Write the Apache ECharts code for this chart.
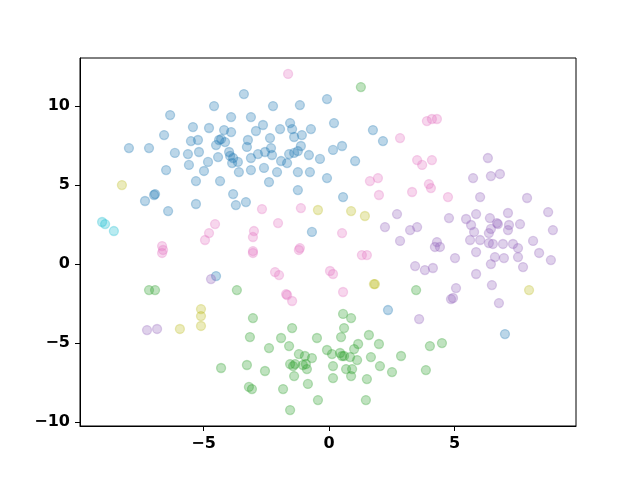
<!DOCTYPE html>
<html>
<head>
<meta charset="utf-8">
<script src="https://cdn.jsdelivr.net/npm/echarts@6/dist/echarts.min.js"></script>
<style>
  html, body { margin: 0; padding: 0; background: #fff; }
  #chart { width: 640px; height: 480px; }
</style>
</head>
<body>
<div id="chart"></div>
<script>
// point groups, [x, y]
const bluePts = [
  [-6.33, 9.43], [-5.42, 8.67], [-6.57, 8.16], [-5.50, 7.78], [-5.22, 7.85], [-7.97, 7.34],
  [-7.17, 7.34], [-6.14, 7.03], [-5.62, 6.96], [-5.18, 7.09], [-5.58, 6.27], [-6.49, 5.95],
  [-4.98, 5.89], [-5.30, 5.25], [-3.39, 10.76], [-4.58, 10.0], [-2.23, 10.0], [-1.16, 10.06],
  [-0.08, 10.44], [-3.90, 9.30], [-3.11, 9.30], [-4.78, 8.61], [-4.18, 8.48], [-3.90, 8.35],
  [-2.63, 8.80], [-2.91, 8.42], [-1.95, 8.54], [-1.55, 8.92], [-1.47, 8.54], [-0.72, 8.54],
  [-4.30, 7.91], [-4.38, 7.85], [-3.23, 7.85], [-2.35, 7.97], [-1.39, 8.04], [-1.08, 8.16],
  [-4.50, 7.53], [-4.14, 7.72], [-3.27, 7.41], [-2.31, 7.34], [-1.12, 7.47], [-3.98, 7.09],
  [-2.55, 7.09], [-2.83, 6.96], [-2.27, 6.90], [-4.42, 6.77], [-3.94, 6.84], [-3.82, 6.71],
  [-3.11, 6.71], [-1.59, 6.96], [-1.39, 7.03], [-1.24, 7.15], [-0.80, 6.90], [-0.36, 6.65],
  [-4.82, 6.46], [-3.86, 6.39], [-3.63, 6.46], [-1.91, 6.52], [-1.67, 6.39], [-3.11, 5.95],
  [-2.59, 6.08], [-2.07, 5.82], [-1.24, 5.82], [-0.76, 5.82], [-3.59, 5.82], [-4.34, 5.25],
  [-0.08, 5.44], [0.20, 8.92], [1.75, 8.48], [2.15, 7.78], [0.16, 7.22], [0.52, 7.47],
  [1.04, 6.52], [-2.39, 5.19], [-1.24, 4.68], [-3.82, 4.43], [-3.71, 3.73], [-3.31, 3.92],
  [-0.68, 2.03], [-4.50, -0.76], [-6.93, 4.43], [-6.97, 4.37], [-7.33, 3.99], [-6.41, 3.35],
  [-5.30, 3.80], [0.56, 4.24], [2.35, -2.91], [7.01, -4.43]
];
const pinkPts = [
  [-1.63, 12.03], [2.83, 7.97], [3.90, 9.05], [4.10, 9.18], [4.30, 9.18], [3.51, 6.58],
  [3.71, 6.27], [4.10, 6.58], [1.63, 5.25], [1.95, 5.44], [3.98, 5.06], [4.06, 4.81],
  [1.99, 4.37], [3.31, 4.56], [4.74, 4.24], [0.52, 1.96], [1.31, 0.57], [1.51, 0.57],
  [0.04, -0.44], [0.16, -0.63], [0.56, -1.77], [-6.65, 1.14], [-6.61, 0.89], [-6.65, 0.70],
  [-4.94, 1.52], [-2.67, 3.48], [-1.12, 3.54], [-4.54, 2.53], [-2.03, 2.59], [-4.78, 1.96],
  [-2.99, 2.09], [-3.03, 1.71], [-3.03, 0.82], [-3.03, 0.70], [-1.16, 1.01], [-1.20, 0.89],
  [-2.15, -0.51], [-1.99, -0.70], [-1.67, -1.96], [-1.71, -1.90], [-1.47, -2.34]
];
const purplePts = [
  [6.33, 6.71], [5.74, 5.44], [6.45, 5.57], [6.81, 5.70], [2.71, 3.16], [2.23, 2.34],
  [3.23, 2.15], [3.51, 2.34], [2.83, 1.46], [4.30, 1.39], [4.22, 1.08], [4.42, 1.08],
  [3.43, -0.13], [3.82, -0.38], [4.14, -0.25], [4.78, 2.91], [4.86, -2.22], [6.02, 4.24],
  [7.89, 4.18], [8.73, 3.29], [5.86, 3.16], [7.13, 3.23], [5.46, 2.85], [5.66, 2.47],
  [6.41, 2.91], [6.73, 2.53], [6.69, 2.59], [7.17, 2.47], [7.61, 2.53], [8.92, 2.15],
  [5.78, 2.03], [6.37, 1.96], [6.45, 2.22], [7.13, 2.15], [5.62, 1.52], [6.02, 1.52],
  [6.37, 1.33], [6.53, 1.27], [6.93, 1.27], [7.33, 1.27], [7.53, 1.01], [8.13, 1.46],
  [5.86, 0.76], [6.61, 0.44], [6.97, 0.38], [7.53, 0.44], [8.37, 0.70], [8.84, 0.25],
  [5.02, 0.38], [6.45, 0.0], [7.73, -0.19], [5.86, -0.63], [5.06, -1.52], [6.49, -1.33],
  [4.94, -2.15], [6.77, -2.47], [-4.70, -0.95], [-7.25, -4.18], [-6.85, -4.11], [3.59, -3.48]
];
const greenPts = [
  [1.27, 11.20], [-7.17, -1.65], [-6.93, -1.65], [-3.67, -1.65], [3.47, -1.65], [-3.03, -3.42],
  [-3.15, -4.62], [-1.47, -4.05], [-1.91, -4.68], [-2.39, -5.32], [-1.59, -5.19], [-0.48, -4.68],
  [-0.08, -5.44], [-1.20, -5.70], [-0.96, -5.82], [-0.68, -5.95], [-4.30, -6.58], [-3.27, -6.39],
  [-2.55, -6.77], [-1.55, -6.33], [-1.43, -6.46], [-1.35, -6.33], [-1.04, -6.39], [-0.92, -6.33],
  [-0.88, -6.65], [-1.39, -7.09], [-3.19, -7.78], [-3.07, -7.91], [-1.83, -7.91], [-0.84, -7.59],
  [-0.44, -8.61], [-1.55, -9.24], [0.56, -3.16], [0.88, -3.42], [0.60, -4.05], [0.48, -4.62],
  [1.59, -4.49], [1.99, -5.06], [1.16, -5.06], [1.00, -5.38], [0.12, -5.70], [0.44, -5.63],
  [0.52, -5.82], [0.60, -5.82], [0.84, -5.89], [1.12, -6.08], [1.67, -5.89], [2.87, -5.82],
  [4.02, -5.19], [4.50, -5.00], [0.16, -6.46], [0.68, -6.65], [0.92, -6.65], [0.88, -7.09],
  [2.03, -6.46], [2.51, -6.84], [3.86, -6.71], [0.16, -7.22], [1.51, -7.28], [1.47, -8.61]
];
const olivePts = [
  [-8.25, 5.00], [-0.44, 3.42], [0.88, 3.35], [1.43, 3.04], [1.83, -1.27], [1.79, -1.27],
  [7.97, -1.65], [-5.94, -4.11], [-5.10, -2.85], [-5.10, -3.29], [-5.10, -3.92]
];
const cyanPts = [[-9.04, 2.66], [-8.92, 2.53], [-8.57, 2.09]];

const xTicks = [-5, 0, 5];
const yTicks = [-10, -5, 0, 5, 10];

const groups = [
  { name: 'blue', data: bluePts, rgb: '31,119,180' },
  { name: 'green', data: greenPts, rgb: '44,160,44' },
  { name: 'purple', data: purplePts, rgb: '148,103,189' },
  { name: 'pink', data: pinkPts, rgb: '227,119,194' },
  { name: 'olive', data: olivePts, rgb: '188,189,34' },
  { name: 'cyan', data: cyanPts, rgb: '23,190,207' },
];

const fmt = v => (v < 0 ? '\u2212' + Math.abs(v) : String(v));

const axisCommon = {
  axisLine: { show: true, onZero: false, lineStyle: { color: '#000', width: 1 } },
  axisTick: { show: true, inside: false, length: 5, lineStyle: { color: '#000', width: 1 } },
  splitLine: { show: false },
  axisLabel: {
    margin: 10, color: '#000', fontSize: 16, fontWeight: 'bold',
    fontFamily: 'DejaVu Sans', formatter: fmt,
  },
};

const chart = echarts.init(document.getElementById('chart'), null, { renderer: 'canvas' });
chart.setOption({
  animation: false,
  backgroundColor: '#fff',
  grid: {
    left: 80, right: 64, top: 58, bottom: 54,
    show: true, borderColor: '#000', borderWidth: 1, backgroundColor: 'transparent',
  },
  xAxis: {
    type: 'value', min: -9.92, max: 9.84,
    ...axisCommon,
    axisTick: { ...axisCommon.axisTick, customValues: xTicks },
    axisLabel: { ...axisCommon.axisLabel, customValues: xTicks },
  },
  yAxis: {
    type: 'value', min: -10.25, max: 13.04,
    ...axisCommon,
    axisTick: { ...axisCommon.axisTick, customValues: yTicks },
    axisLabel: { ...axisCommon.axisLabel, customValues: yTicks },
  },
  series: groups.map(g => ({
    name: g.name,
    type: 'scatter',
    data: g.data,
    symbol: 'circle',
    symbolSize: 9,
    itemStyle: {
      color: 'rgba(' + g.rgb + ',0.3)',
      borderColor: 'rgba(' + g.rgb + ',0.3)',
      borderWidth: 1.3,
      opacity: 1,
    },
  })),
});
</script>
</body>
</html>
